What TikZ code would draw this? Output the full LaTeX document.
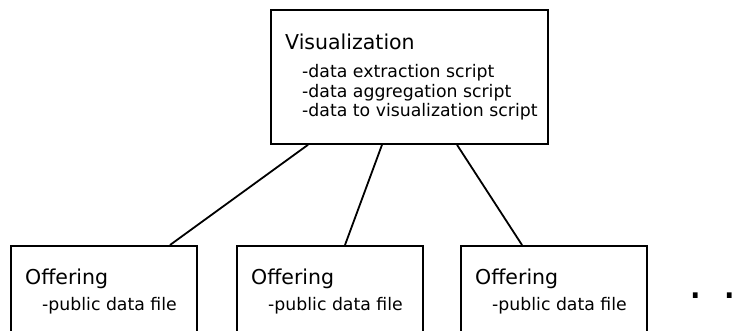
\documentclass[tikz,border=0pt]{standalone}
\usepackage{fontspec}
\setmainfont{DejaVu Sans}
\usetikzlibrary{calc}
\tikzstyle{box} = [rectangle, draw=black, line width=1.8pt, minimum width=186pt, minimum height=110pt, anchor=north west, inner sep=0pt]
\tikzstyle{heading} = [anchor=base west, inner sep=0pt, font=\fontsize{20.5}{24}\selectfont]
\tikzstyle{entry} = [anchor=base west, inner sep=0pt, font=\fontsize{17.3}{19.5}\selectfont]
\tikzstyle{line} = [line width=1.8pt]

\begin{document}
\begin{tikzpicture}[x=1pt, y=-1pt]
\clip (0,0) rectangle (751,331);

\node (vis) [box, minimum width=277pt, minimum height=134pt] at (270,9) {};
\node (vistitle) [heading] at ($(vis.north west)+(15,41)$) {Visualization};
\node (vis1) [entry] at ($(vis.north west)+(32,69)$) {-data extraction script};
\node (vis2) [entry] at ($(vis.north west)+(32,88.5)$) {-data aggregation script};
\node (vis3) [entry] at ($(vis.north west)+(32,108)$) {-data to visualization script};

\node (off1) [box] at (10,245) {};
\node (off2) [box] at (236,245) {};
\node (off3) [box] at (460,245) {};
\foreach \o in {off1,off2,off3} {
  \node (\o title) [heading] at ($(\o.north west)+(15,39)$) {Offering};
  \node (\o file) [entry] at ($(\o.north west)+(32,65)$) {-public data file};
}

\node (more) [anchor=base west, inner sep=0pt, font=\fontsize{45.6}{50}\selectfont] at (688.7,298.5) {. . .};

\draw [line] ($(vis.south west)+(38,0)$) -- ($(off1.north west)+(160,0)$);
\draw [line] ($(vis.south west)+(112,0)$) -- ($(off2.north west)+(109,0)$);
\draw [line] ($(vis.south west)+(187,0)$) -- ($(off3.north west)+(62,0)$);

\end{tikzpicture}
\end{document}
